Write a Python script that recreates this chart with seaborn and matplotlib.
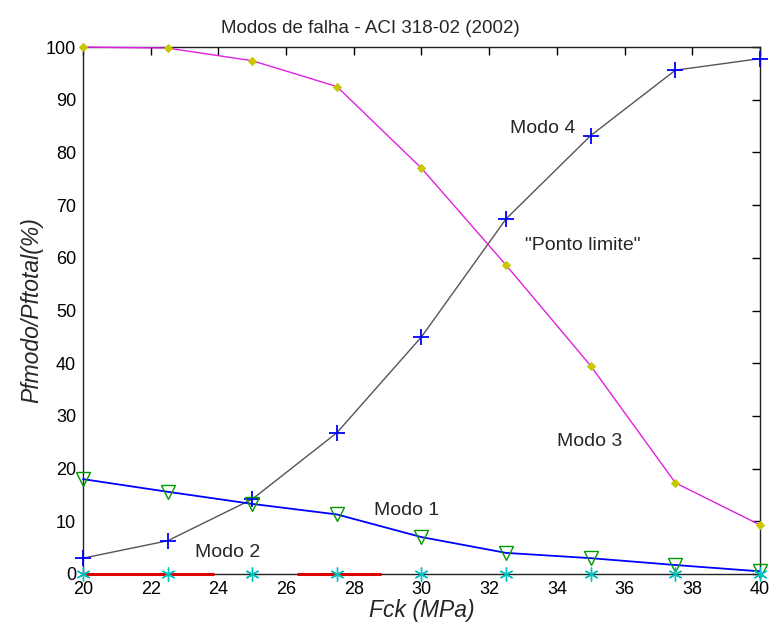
import matplotlib
matplotlib.use("Agg")
import matplotlib.pyplot as plt
import seaborn as sns
import pandas as pd

fck = [20, 22.5, 25, 27.5, 30, 32.5, 35, 37.5, 40]
modo1 = [18.0, 15.6, 13.3, 11.3, 7.0, 4.0, 3.0, 1.7, 0.5]
modo2 = [0, 0, 0, 0, 0, 0, 0, 0, 0]
modo3 = [100.0, 99.8, 97.4, 92.5, 77.0, 58.6, 39.5, 17.3, 9.3]
modo4 = [3.0, 6.3, 14.2, 26.8, 45.0, 67.4, 83.2, 95.6, 97.8]

title = "Modos de falha - ACI 318-02 (2002)"
xlabel = "Fck (MPa)"
ylabel = "Pfmodo/Pftotal(%)"
xticks = list(range(20, 41, 2))
yticks = list(range(0, 101, 10))

sns.set_style("white")
plt.rcParams['font.family'] = ['Liberation Sans', 'DejaVu Sans']
plt.rcParams['lines.scale_dashes'] = False

fig = plt.figure(figsize=(7.7, 6.32), dpi=100)
ax = fig.add_axes([0.1078, 0.0918, 0.987 - 0.1078, 0.9256 - 0.0918])

df = pd.DataFrame({"fck": fck, "m1": modo1, "m2": modo2, "m3": modo3, "m4": modo4})

# Modo 2 red dashed line
sns.lineplot(data=df.iloc[:5], x="fck", y="m2", ax=ax, color="#e00000", lw=2.2,
             dashes=False, zorder=3)
red = ax.lines[-1]
red.set_linestyle((0, (94.3, 59.8, 60.5, 300)))

sns.lineplot(data=df, x="fck", y="m4", ax=ax, color="#555555", lw=1.0,
             marker="+", markersize=11, mec="#0000ff", mew=1.3, zorder=3)
sns.lineplot(data=df, x="fck", y="m3", ax=ax, color="#e020e0", lw=1.0,
             marker="D", markersize=4, mfc="#c8c800", mec="#c8c800", zorder=3)
sns.lineplot(data=df, x="fck", y="m1", ax=ax, color="#0000ff", lw=1.3,
             marker="v", markersize=10, mfc="none", mec="#009900", mew=1.0, zorder=3)
sns.lineplot(data=df, x="fck", y="m2", ax=ax, color="none", lw=0,
             marker=(6, 2, 0), markersize=10, mec="#00c0c0", mew=1.0, zorder=4)
for ln in ax.lines:
    ln.set_clip_on(False)

ax.set_xlim(20, 40)
ax.set_ylim(0, 100)
ax.set_xticks(xticks)
ax.set_yticks(yticks)
ax.tick_params(direction="in", length=6, width=1, top=True, right=True,
               labelsize=13, colors="black", pad=5)
for s in ax.spines.values():
    s.set_visible(True)
    s.set_color("#222222")
    s.set_linewidth(1.0)
    s.set_zorder(2.5)

ax.set_title(title, fontsize=13.5, pad=10, x=0.425)
ax.set_xlabel(xlabel, fontsize=16.5, style="italic", labelpad=1)
ax.set_ylabel(ylabel, fontsize=16.5, style="italic", labelpad=2)

fs = 14
ax.text(32.6, 84.6, "Modo 4", fontsize=fs, va="center")
ax.text(33.05, 62.4, '"Ponto limite"', fontsize=fs, va="center")
ax.text(34.0, 25.2, "Modo 3", fontsize=fs, va="center")
ax.text(28.6, 12.1, "Modo 1", fontsize=fs, va="center")
ax.text(23.3, 4.0, "Modo 2", fontsize=fs, va="center")

fig.savefig("out.png", dpi=100, facecolor="white")
